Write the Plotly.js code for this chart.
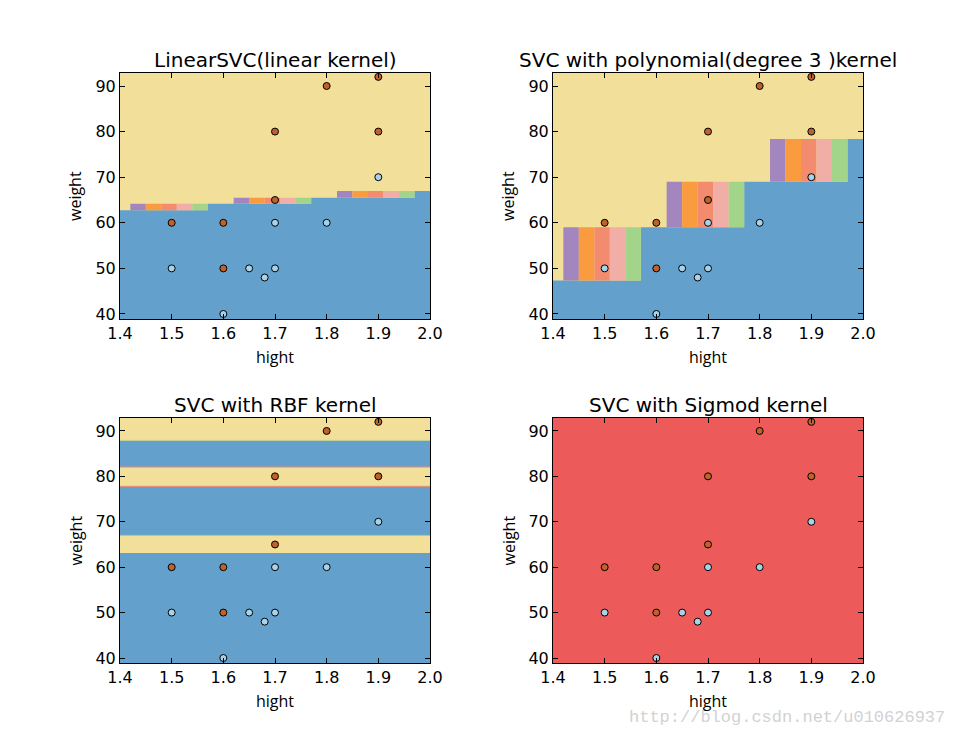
<!DOCTYPE html>
<html><head><meta charset="utf-8">
<script src="https://cdn.plot.ly/plotly-3.0.1.min.js"></script>
<style>html,body{margin:0;padding:0;background:#fff}#chart{width:958px;height:737px}</style>
</head><body><div id="chart"></div>
<script>
// ---------- data ----------
const titles = ["LinearSVC(linear kernel)", "SVC with polynomial(degree 3 )kernel", "SVC with RBF kernel", "SVC with Sigmod kernel"];
const xTickVals = [1.4, 1.5, 1.6, 1.7, 1.8, 1.9, 2.0];
const xTickText = ["1.4", "1.5", "1.6", "1.7", "1.8", "1.9", "2.0"];
const yTickVals = [40, 50, 60, 70, 80, 90];
const yTickText = ["40", "50", "60", "70", "80", "90"];
const xRange = [1.4, 2.0];
const yRange = [38.9, 92.85];
const fillX = [1.3, 2.1];   // region fills overshoot the axes and are clipped
const fillY = [30, 100];

// samples: class 0 (light blue) and class 1 (brown)
const class0X = [1.5, 1.6, 1.65, 1.68, 1.7, 1.7, 1.8, 1.9];
const class0Y = [50, 40, 50, 48, 50, 60, 60, 70];
const class1X = [1.5, 1.6, 1.6, 1.7, 1.7, 1.8, 1.9, 1.9];
const class1Y = [60, 60, 50, 65, 80, 90, 80, 92];

// step boundaries of the linear / polynomial decision regions
const stepStartX = [1.3, 1.57, 1.77, 1.97];   // where each blue level begins
const stripStartX = [1.42, 1.62, 1.82];       // where each contour-strip block begins
const stripWidth = 0.03;
const linearLevels = [62.75, 64.2, 65.5, 66.95];
const polyLevels = [47.36, 59.0, 69.0, 78.4];

// RBF: blue bands between lower/upper bounds
const rbfBlueLo = [30, 67.0, 82.05];
const rbfBlueHi = [63.1, 77.8, 87.95];
const rbfEdgeY = [67.0, 77.8, 82.05, 87.95];

// colours
const colYellow = "#f2e09a";
const colBlue = "#63a1cc";
const colRed = "#ec5a5a";
const stripColors = ["#a286bd", "#fb9b40", "#f38b6f", "#f0aea6", "#a2d48a"];
const rbfEdgeColors = ["#a2d48a", "#f38b6f", "#f38b6f", "#d6d98e"];
const colClass0 = "#a8d2e9";
const colClass1 = "#c0612a";

// ---------- build ----------
const axes = [["x", "y"], ["x2", "y2"], ["x3", "y3"], ["x4", "y4"]];
const traces = [];

function rectTrace(ax, x0s, x1s, y0s, y1s, color) {
  const xs = [], ys = [];
  for (let i = 0; i < x0s.length; i++) {
    xs.push(x0s[i], x1s[i], x1s[i], x0s[i], x0s[i], null);
    ys.push(y0s[i], y0s[i], y1s[i], y1s[i], y0s[i], null);
  }
  return {x: xs, y: ys, xaxis: ax[0], yaxis: ax[1], type: "scatter", mode: "lines",
    fill: "toself", fillcolor: color, line: {width: 0, color: color}, hoverinfo: "skip", showlegend: false};
}

function stepPanel(ax, levels) {
  traces.push(rectTrace(ax, [fillX[0]], [fillX[1]], [fillY[0]], [fillY[1]], colYellow));
  const xs = [fillX[0]], ys = [fillY[0]];
  for (let i = 0; i < levels.length; i++) {
    const xe = i + 1 < stepStartX.length ? stepStartX[i + 1] : fillX[1];
    xs.push(stepStartX[i], xe);
    ys.push(levels[i], levels[i]);
  }
  xs.push(fillX[1], fillX[0]);
  ys.push(fillY[0], fillY[0]);
  traces.push({x: xs, y: ys, xaxis: ax[0], yaxis: ax[1], type: "scatter", mode: "lines",
    fill: "toself", fillcolor: colBlue, line: {width: 0, color: colBlue}, hoverinfo: "skip", showlegend: false});
  stripColors.forEach((c, k) => {
    const x0 = [], x1 = [], y0 = [], y1 = [];
    stripStartX.forEach((sx, i) => {
      x0.push(sx + k * stripWidth); x1.push(sx + (k + 1) * stripWidth);
      y0.push(levels[i]); y1.push(levels[i + 1]);
    });
    traces.push(rectTrace(ax, x0, x1, y0, y1, c));
  });
}

stepPanel(axes[0], linearLevels);
stepPanel(axes[1], polyLevels);

// RBF
traces.push(rectTrace(axes[2], [fillX[0]], [fillX[1]], [fillY[0]], [fillY[1]], colYellow));
traces.push(rectTrace(axes[2], rbfBlueLo.map(() => fillX[0]), rbfBlueLo.map(() => fillX[1]), rbfBlueLo, rbfBlueHi, colBlue));
rbfEdgeY.forEach((yv, i) => {
  traces.push({x: [fillX[0], fillX[1]], y: [yv, yv], xaxis: "x3", yaxis: "y3", type: "scatter", mode: "lines",
    line: {width: 1, color: rbfEdgeColors[i]}, hoverinfo: "skip", showlegend: false});
});

// Sigmoid
traces.push(rectTrace(axes[3], [fillX[0]], [fillX[1]], [fillY[0]], [fillY[1]], colRed));

// points
axes.forEach(ax => {
  traces.push({x: class0X, y: class0Y, xaxis: ax[0], yaxis: ax[1], type: "scatter", mode: "markers",
    marker: {size: 7, color: colClass0, line: {width: 1, color: "#000"}}, hoverinfo: "skip", showlegend: false, cliponaxis: false});
  traces.push({x: class1X, y: class1Y, xaxis: ax[0], yaxis: ax[1], type: "scatter", mode: "markers",
    marker: {size: 7, color: colClass1, line: {width: 1, color: "#000"}}, hoverinfo: "skip", showlegend: false, cliponaxis: false});
});

// ---------- layout ----------
const W = 958, H = 737;
const px = v => v / W, py = v => 1 - v / H;
const xDomains = [[120, 430], [553, 863]];
const yDomains = [[73, 319], [418, 663]];
const font = "DejaVu Sans";

function xAxisDef(d, anchor) {
  return {domain: [px(d[0]), px(d[1])], range: xRange, anchor: anchor, tickvals: xTickVals, ticktext: xTickText,
    ticks: "inside", ticklen: 5, tickcolor: "#000", showline: true, linecolor: "#000", linewidth: 1, mirror: "ticks",
    showgrid: false, zeroline: false, tickfont: {family: font, size: 16, color: "#000"}, fixedrange: true};
}
function yAxisDef(d, anchor) {
  return {domain: [py(d[1]), py(d[0])], range: yRange, anchor: anchor, tickvals: yTickVals, ticktext: yTickText,
    ticks: "inside", ticklen: 5, tickcolor: "#000", showline: true, linecolor: "#000", linewidth: 1, mirror: "ticks",
    showgrid: false, zeroline: false, tickfont: {family: font, size: 16, color: "#000"}, fixedrange: true};
}

const layout = {
  width: W, height: H, margin: {l: 0, r: 0, t: 0, b: 0},
  paper_bgcolor: "#fff", plot_bgcolor: "#fff", showlegend: false,
  xaxis: xAxisDef(xDomains[0], "y"), yaxis: yAxisDef(yDomains[0], "x"),
  xaxis2: xAxisDef(xDomains[1], "y2"), yaxis2: yAxisDef(yDomains[0], "x2"),
  xaxis3: xAxisDef(xDomains[0], "y3"), yaxis3: yAxisDef(yDomains[1], "x3"),
  xaxis4: xAxisDef(xDomains[1], "y4"), yaxis4: yAxisDef(yDomains[1], "x4"),
  annotations: []
};

const cells = [[0, 0], [1, 0], [0, 1], [1, 1]];
cells.forEach((c, i) => {
  const xd = xDomains[c[0]], yd = yDomains[c[1]];
  const cx = (xd[0] + xd[1]) / 2;
  layout.annotations.push({text: titles[i], x: px(cx), y: py(yd[0] - 13), xref: "paper", yref: "paper",
    xanchor: "center", yanchor: "middle", showarrow: false, font: {family: font, size: 20, color: "#000"}});
  layout.annotations.push({text: "hight", x: px(cx), y: py(yd[1] + 38), xref: "paper", yref: "paper",
    xanchor: "center", yanchor: "middle", showarrow: false, font: {family: "Open Sans", size: 16, color: "#000"}});
  layout.annotations.push({text: "weight", x: px(xd[0] - 45), y: py((yd[0] + yd[1]) / 2), xref: "paper", yref: "paper",
    xanchor: "center", yanchor: "middle", textangle: -90, showarrow: false, font: {family: "Open Sans", size: 16, color: "#000"}});
});
layout.annotations.push({text: "http://blog.csdn.net/u010626937", x: px(947), y: py(717), xref: "paper", yref: "paper",
  xanchor: "right", yanchor: "middle", showarrow: false, font: {family: "Liberation Mono", size: 17, color: "#d2d2d2"}});

Plotly.newPlot("chart", traces, layout, {staticPlot: true, displayModeBar: false});
</script>
</body></html>
